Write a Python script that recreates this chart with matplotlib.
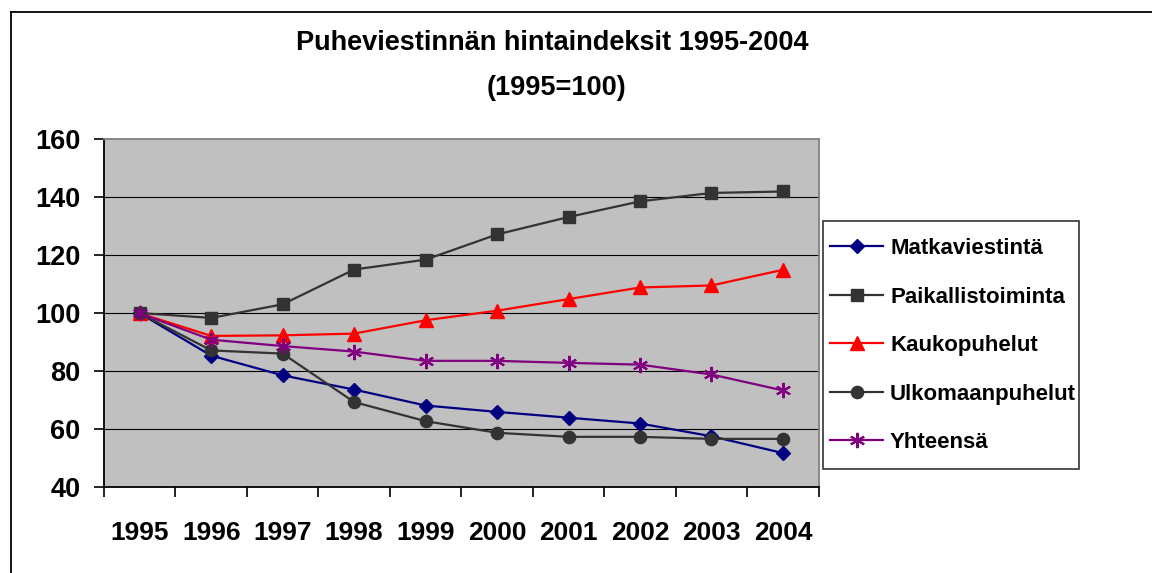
import matplotlib
matplotlib.use("Agg")
import matplotlib.pyplot as plt
from matplotlib.lines import Line2D
from matplotlib.patches import Rectangle
import numpy as np

plt.rcParams['font.family'] = ['Liberation Sans', 'DejaVu Sans']
plt.rcParams['font.weight'] = 'bold'

years = ['1995', '1996', '1997', '1998', '1999', '2000', '2001', '2002', '2003', '2004']
matkaviestinta = [100, 85.4, 78.6, 73.7, 68.2, 66.0, 64.0, 62.0, 57.6, 51.8]
paikallistoiminta = [100.1, 98.4, 103.1, 115.1, 118.5, 127.2, 133.2, 138.6, 141.5, 142.0]
kaukopuhelut = [100, 92.2, 92.4, 93.0, 97.6, 100.9, 104.9, 108.9, 109.6, 115.0]
ulkomaanpuhelut = [100, 87.2, 86.1, 69.4, 62.8, 58.8, 57.4, 57.4, 56.7, 56.7]
yhteensa = [100, 90.9, 88.7, 86.8, 83.6, 83.6, 82.9, 82.3, 78.9, 73.4]

series_names = ['Matkaviestintä', 'Paikallistoiminta', 'Kaukopuhelut', 'Ulkomaanpuhelut', 'Yhteensä']
title_line1 = 'Puheviestinnän hintaindeksit 1995-2004'
title_line2 = '(1995=100)'
yticks = [40, 60, 80, 100, 120, 140, 160]

W, H = 1152, 573
fig = plt.figure(figsize=(W / 100, H / 100), dpi=100)
fig.patch.set_facecolor('white')

# figure border (left and top visible)
fy = 1 - 12 / H
fx = 11 / W
fig.add_artist(Line2D([fx, fx], [0, fy], transform=fig.transFigure, color='black', lw=1.3))
fig.add_artist(Line2D([fx, 1], [fy, fy], transform=fig.transFigure, color='black', lw=1.3))

left, right, top, bottom = 104, 818.7, 139.3, 487.3
ax = fig.add_axes([left / W, 1 - bottom / H, (right - left) / W, (bottom - top) / H])
ax.set_facecolor('#C0C0C0')

x = np.arange(len(years))
styles = [
    (matkaviestinta, '#000080', 'D', 7.3, {}),
    (paikallistoiminta, '#333333', 's', 9.0, {}),
    (kaukopuhelut, '#FF0000', '^', 10.0, {}),
    (ulkomaanpuhelut, '#333333', 'o', 8.8, {}),
    (yhteensa, '#800080', (6, 2, 0), 11.0, {'markeredgewidth': 1.5}),
]
handles = []
for (vals, col, mk, ms, extra), name in zip(styles, series_names):
    h, = ax.plot(x, vals, color=col, lw=1.6, marker=mk, markersize=ms,
                 markerfacecolor=col, markeredgecolor=col, label=name, zorder=3, **extra)
    handles.append(h)

ax.set_xlim(-0.5, len(years) - 0.5)
ax.set_ylim(40, 160)
ax.set_yticks(yticks)
ax.set_yticklabels([str(v) for v in yticks], fontsize=19.5, fontweight='bold')
ax.set_xticks(x)
ax.set_xticklabels(years, fontsize=19, fontweight='bold')
ax.set_xticks(np.arange(-0.5, len(years), 1.0), minor=True)
ax.tick_params(axis='x', which='major', length=0, pad=24)
ax.tick_params(axis='x', which='minor', length=7, width=1.2, direction='out', color='black')
ax.tick_params(axis='y', which='major', length=7, width=1.2, direction='out', pad=10, color='black')

for v in [60, 80, 100, 120, 140]:
    ax.axhline(v, color='black', lw=0.8, zorder=1)

for s in ['left', 'bottom']:
    ax.spines[s].set_color('black')
    ax.spines[s].set_linewidth(1.3)
for s in ['top', 'right']:
    ax.spines[s].set_color('#808080')
    ax.spines[s].set_linewidth(1.3)

# titles
fig.text(552 / W, 1 - 43 / H, title_line1, ha='center', va='center', fontsize=19.5, fontweight='bold')
fig.text(557 / W, 1 - 88 / H, title_line2, ha='center', va='center', fontsize=19.5, fontweight='bold')

# legend frame
lx0, ly0, lx1, ly1 = 822.7, 220.7, 1079.3, 469.3
fig.add_artist(Rectangle((lx0 / W, 1 - ly1 / H), (lx1 - lx0) / W, (ly1 - ly0) / H,
                         transform=fig.transFigure, facecolor='white', edgecolor='#333333', lw=1.2, zorder=2))
leg = fig.legend(handles=handles, labels=series_names, loc='upper left',
                 bbox_to_anchor=(830 / W, 1 - 238 / H), bbox_transform=fig.transFigure,
                 frameon=False, borderpad=0, borderaxespad=0, handlelength=2.4,
                 handletextpad=0.3, labelspacing=1.24, prop={'size': 16, 'weight': 'bold'})
leg.set_zorder(3)

fig.savefig('out.png', dpi=100)
